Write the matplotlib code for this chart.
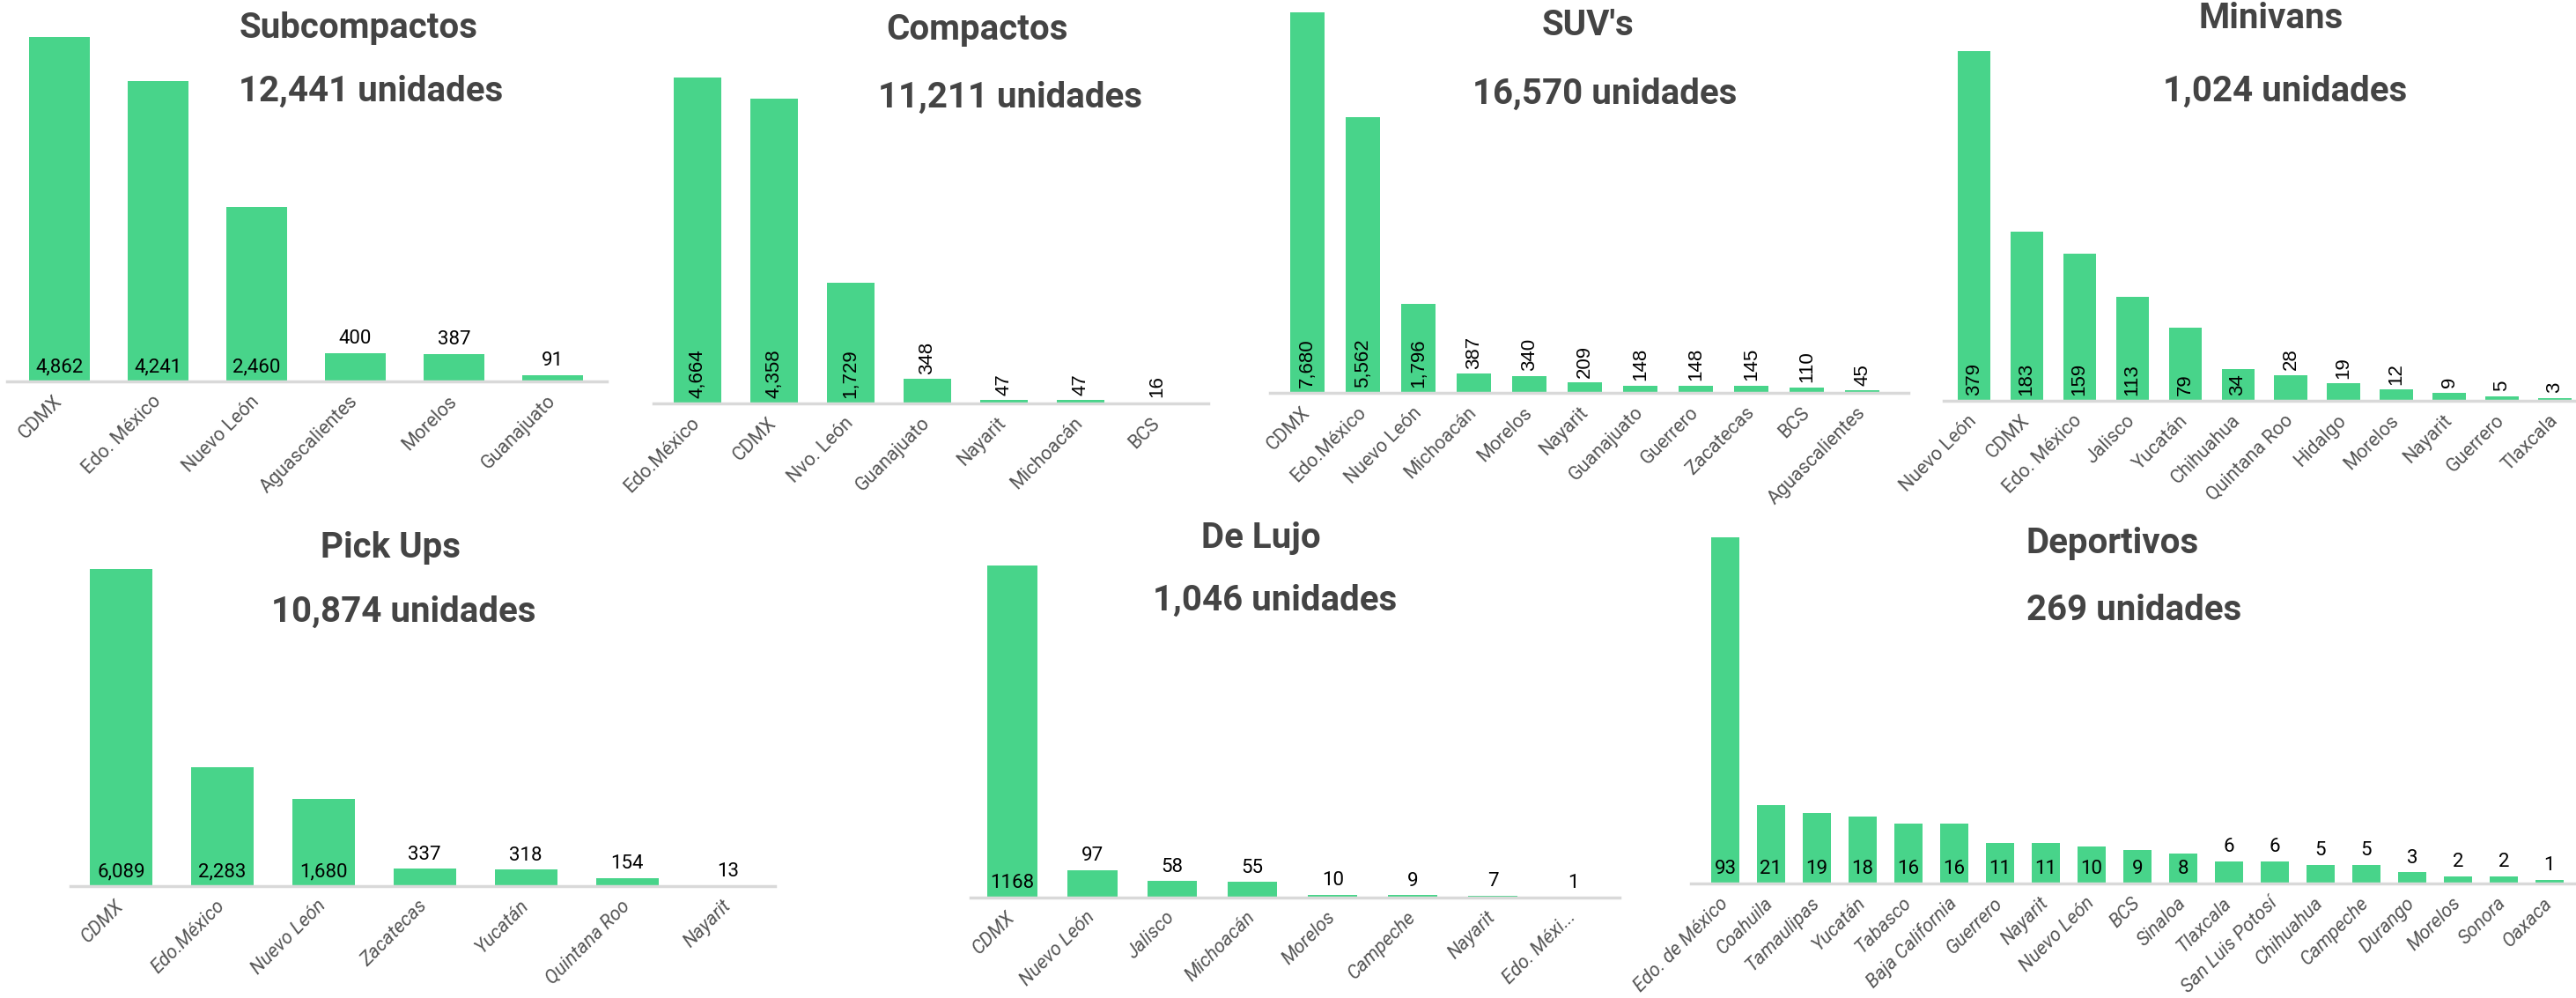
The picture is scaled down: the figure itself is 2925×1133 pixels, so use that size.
import matplotlib
matplotlib.use("Agg")
import matplotlib.pyplot as plt

# datos por segmento
sub_states = ['CDMX', 'Edo. México', 'Nuevo León', 'Aguascalientes', 'Morelos', 'Guanajuato']
sub_vals = [4862, 4241, 2460, 400, 387, 91]

comp_states = ['Edo.México', 'CDMX', 'Nvo. León', 'Guanajuato', 'Nayarit', 'Michoacán', 'BCS']
comp_vals = [4664, 4358, 1729, 348, 47, 47, 16]

suv_states = ['CDMX', 'Edo.México', 'Nuevo León', 'Michoacán', 'Morelos', 'Nayarit',
              'Guanajuato', 'Guerrero', 'Zacatecas', 'BCS', 'Aguascalientes']
suv_vals = [7680, 5562, 1796, 387, 340, 209, 148, 148, 145, 110, 45]

mini_states = ['Nuevo León', 'CDMX', 'Edo. México', 'Jalisco', 'Yucatán', 'Chihuahua',
               'Quintana Roo', 'Hidalgo', 'Morelos', 'Nayarit', 'Guerrero', 'Tlaxcala']
mini_vals = [379, 183, 159, 113, 79, 34, 28, 19, 12, 9, 5, 3]

pick_states = ['CDMX', 'Edo.México', 'Nuevo León', 'Zacatecas', 'Yucatán', 'Quintana Roo', 'Nayarit']
pick_vals = [6089, 2283, 1680, 337, 318, 154, 13]

lujo_states = ['CDMX', 'Nuevo León', 'Jalisco', 'Michoacán', 'Morelos', 'Campeche', 'Nayarit', 'Edo. Méxi...']
lujo_vals = [1168, 97, 58, 55, 10, 9, 7, 1]

dep_states = ['Edo. de México', 'Coahuila', 'Tamaulipas', 'Yucatán', 'Tabasco', 'Baja California',
              'Guerrero', 'Nayarit', 'Nuevo León', 'BCS', 'Sinaloa', 'Tlaxcala', 'San Luis Potosí',
              'Chihuahua', 'Campeche', 'Durango', 'Morelos', 'Sonora', 'Oaxaca']
dep_vals = [93, 21, 19, 18, 16, 16, 11, 11, 10, 9, 8, 6, 6, 5, 5, 3, 2, 2, 1]

titles = ['Subcompactos', 'Compactos', "SUV's", 'Minivans', 'Pick Ups', 'De Lujo', 'Deportivos']
totals = ['12,441 unidades', '11,211 unidades', '16,570 unidades', '1,024 unidades',
          '10,874 unidades', '1,046 unidades', '269 unidades']

GREEN = '#48D48A'
GRAY = '#444444'
W, H = 2925, 1133

fig = plt.figure(figsize=(W / 100, H / 100), dpi=100)

# left, right, baseline, top (px) | xlim | title x,y | subtitle x,y | rotated | n inside | italic | comma
layout = [
    (8, 689, 433, 42, (-0.53, 5.55), (407, 32), (421, 104), False, 3, False, True),
    (742, 1372, 458, 88, (-0.57, 6.67), (1110, 34), (1147, 111), True, 3, False, True),
    (1442, 2167, 446, 14, (-0.68, 10.83), (1803, 29), (1822, 107), True, 3, False, True),
    (2207, 2925, 455, 58, (-0.57, 11.4), (2579, 21), (2595, 104), True, 6, False, True),
    (80, 880, 1006, 646, (-0.5, 6.46), (443, 622), (458, 695), False, 3, True, True),
    (1102, 1839, 1019, 642, (-0.52, 7.58), (1432, 611), (1448, 682), False, 1, True, False),
    (1920, 2925, 1003, 610, (-0.75, 18.58), (2399, 617), (2423, 693), False, 11, True, True),
]

data = [(sub_states, sub_vals), (comp_states, comp_vals), (suv_states, suv_vals),
        (mini_states, mini_vals), (pick_states, pick_vals), (lujo_states, lujo_vals),
        (dep_states, dep_vals)]

for k, (states, vals) in enumerate(data):
    l, r, base, top, xl, tpos, spos, rot, n_in, ital, comma = layout[k]
    ax = fig.add_axes([l / W, (H - base) / H, (r - l) / W, (base - top) / H])
    x = list(range(len(vals)))
    ax.bar(x, vals, width=0.62, color=GREEN, zorder=2)
    ax.set_xlim(*xl)
    ax.set_ylim(0, max(vals))
    for s in ['top', 'right', 'left']:
        ax.spines[s].set_visible(False)
    ax.spines['bottom'].set_color('#D9D9D9')
    ax.spines['bottom'].set_linewidth(2.5)
    ax.set_yticks([])
    ax.set_xticks(x)
    ax.set_xticklabels(states, rotation=45, ha='right', va='center', rotation_mode='anchor',
                       fontsize=15.5, color='#555555', family='Roboto',
                       style='italic' if ital else 'normal')
    ax.tick_params(axis='x', length=0, pad=14)
    for i, v in enumerate(vals):
        lab = '{:,}'.format(v) if comma else str(v)
        if i < n_in:
            yy = 0
        else:
            yy = v
        if rot:
            ax.annotate(lab, (i, yy), xytext=(0, 4), textcoords='offset points', ha='center',
                        va='bottom', rotation=90, fontsize=16, family='Liberation Sans',
                        color='black', annotation_clip=False)
        else:
            ax.annotate(lab, (i, yy), xytext=(0, 4), textcoords='offset points', ha='center',
                        va='bottom', fontsize=16, family='Roboto', color='black',
                        annotation_clip=False)
    fig.text(tpos[0] / W, 1 - tpos[1] / H, titles[k], ha='center', va='center',
             fontsize=29, fontweight='bold', color=GRAY, family='Roboto')
    fig.text(spos[0] / W, 1 - spos[1] / H, totals[k], ha='center', va='center',
             fontsize=29, fontweight='bold', color=GRAY, family='Roboto')

fig.savefig('out.png', dpi=100)
